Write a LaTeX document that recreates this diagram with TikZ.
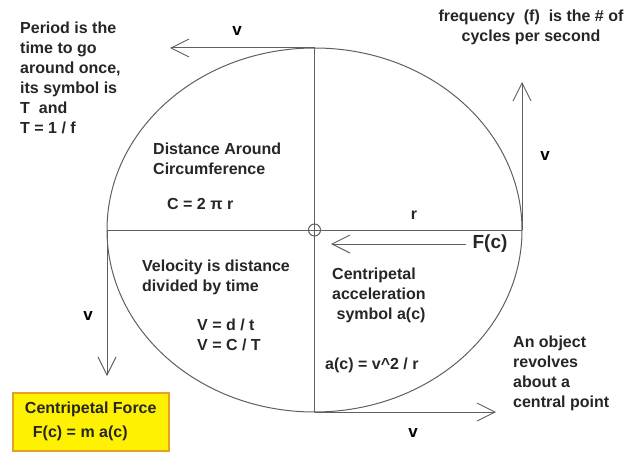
\documentclass[tikz,border=0pt]{standalone}
\usepackage{fontspec}
\setmainfont{Liberation Sans}
\usetikzlibrary{arrows.meta,shapes.geometric,positioning}

\definecolor{linegray}{RGB}{95,95,95}
\definecolor{boxorange}{RGB}{230,160,40}

\tikzset{
  line/.style={draw=linegray, line width=1pt},
  vel/.style={line, -{Straight Barb[length=18pt,width=18pt,line width=0.9pt]}},
  note/.style={font=\bfseries\fontsize{16}{20}\selectfont, align=left, inner sep=0pt, text=black!85},
  vlabel/.style={font=\bfseries\fontsize{17}{17}\selectfont, inner sep=0pt}
}

\begin{document}
\begin{tikzpicture}[x=1pt,y=-1pt]
  \useasboundingbox (0,0) rectangle (626,452);

  % the orbit and its two diameters
  \node[line, ellipse, minimum width=415pt, minimum height=364pt,
        inner sep=0pt, outer sep=0pt] (orbit) at (314.5,230) {};
  \node[line, circle, minimum size=12pt, inner sep=0pt] (hub) at (orbit.center) {};
  \draw[line] (orbit.north) -- (orbit.south);
  \draw[line] (orbit.west) -- (orbit.east);

  % velocity arrows
  \coordinate (topend)   at (170,48);
  \coordinate (leftend)  at (107,376);
  \coordinate (botend)   at (496,412);
  \coordinate (rightend) at (522,82);
  \draw[vel] (orbit.north) -- (topend);
  \draw[vel] (orbit.west)  -- (leftend);
  \draw[vel] (orbit.south) -- (botend);
  \draw[vel] (orbit.east)  -- (rightend);

  \node[vlabel] (vtop)   at (237,31)  {v};
  \node[vlabel] (vleft)  at (88,316)  {v};
  \node[vlabel] (vbot)   at (413,433) {v};
  \node[vlabel] (vright) at (545,156) {v};

  % force arrow and radius
  \node[note, font=\bfseries\fontsize{19}{19}\selectfont] (force) at (490,244) {F(c)};
  \coordinate (forceend) at (331,244);
  \draw[vel] (force.west) ++(-6,0) coordinate (forcestart) -- (forceend);
  \node[note] (radius) at (414,215) {r};

  % notes
  \node[note, anchor=north west] (period) at (20,22)
    {Period is the\\time to go\\around once,\\its symbol is\\T\ \ and\\T = 1 / f};
  \node[note, anchor=north, align=center] (freq) at (531,10)
    {frequency\ \ (f)\ \ is the \# of\\cycles per second};
  \node[note, anchor=north west] (dist) at (153,143)
    {Distance Around\\Circumference};
  \node[note, anchor=north west] (circ) at (167,198) {C = 2 π r};
  \node[note, anchor=north west] (speed) at (142,260)
    {Velocity is distance\\divided by time};
  \node[note, anchor=north west] (vform) at (197,319) {V = d / t\\V = C / T};
  \node[note, anchor=north west] (accel) at (332,268)
    {Centripetal\\acceleration\\\ symbol a(c)};
  \node[note, anchor=north west] (aform) at (325,358) {a(c) = v\^{}2 / r};
  \node[note, anchor=north west] (object) at (513,336)
    {An object\\revolves\\about a\\central point};

  % centripetal force box
  \node[note, fill=yellow, draw=boxorange, line width=1.5pt, anchor=north west,
        minimum width=156pt, minimum height=58pt]
    (forcebox) at (12,392) {Centripetal Force\\[4pt]\hspace{8pt}F(c) = m a(c)};
\end{tikzpicture}
\end{document}
